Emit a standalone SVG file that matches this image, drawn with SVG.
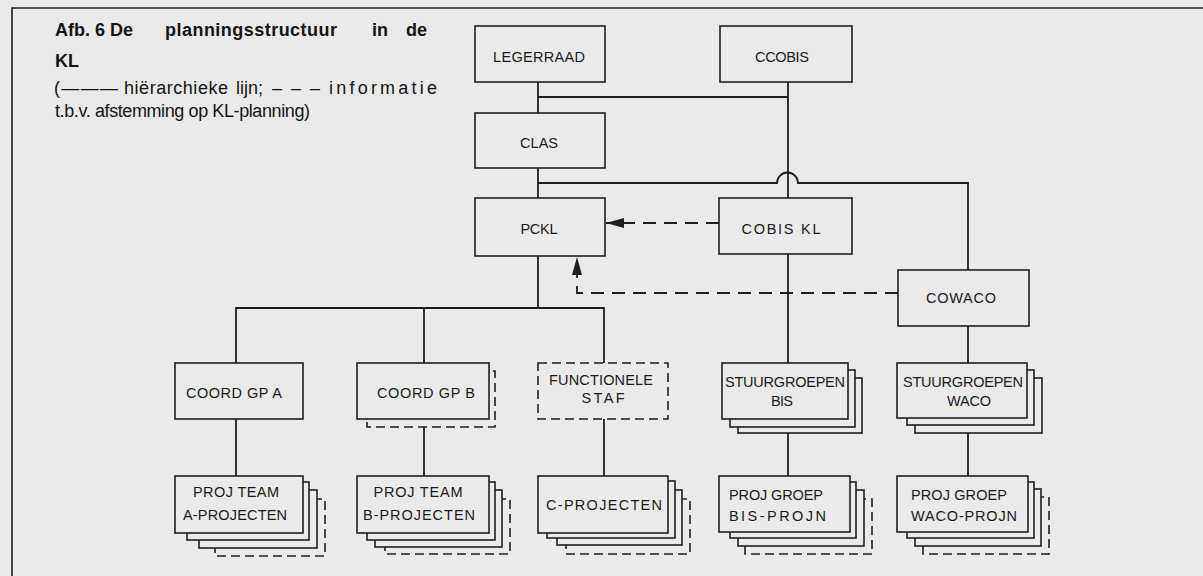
<svg xmlns="http://www.w3.org/2000/svg" width="1203" height="576" viewBox="0 0 1203 576">
<defs>
<style>
.bg{fill:#eaeaea}
.box{fill:#eaeaea;stroke:#1e1e1e;stroke-width:1.6}
.dbox{fill:#eaeaea;stroke:#1e1e1e;stroke-width:1.6;stroke-dasharray:9 5}
.lbl{font-family:"Liberation Sans",Arial,sans-serif;font-size:14.5px;fill:#1a1a1a;text-anchor:middle}
.lbll{font-family:"Liberation Sans",Arial,sans-serif;font-size:14.5px;fill:#1a1a1a}
.cap{font-family:"Liberation Sans",Arial,Helvetica,sans-serif;font-size:18px;fill:#141414}
.capb{font-family:"Liberation Sans",Arial,Helvetica,sans-serif;font-size:18px;font-weight:bold;fill:#141414}
.conn{fill:none;stroke:#1e1e1e;stroke-width:1.8}
.dash{fill:none;stroke:#1e1e1e;stroke-width:1.8;stroke-dasharray:13 8}
.frame{fill:none;stroke:#1e1e1e;stroke-width:1.6}
</style>
<marker id="arr" viewBox="0 0 18 10" refX="18" refY="5" markerWidth="18" markerHeight="10" markerUnits="userSpaceOnUse" orient="auto">
<path d="M0,0 L18,5 L0,10 z" fill="#1e1e1e"/>
</marker>
</defs>
<rect class="bg" x="0" y="0" width="1203" height="576"/>
<path class="frame" d="M12,576 V8 H1203"/>

<g id="caption">
<text class="capb" y="36"><tspan x="55">Afb.</tspan> <tspan x="95">6</tspan> <tspan x="110">De</tspan> <tspan x="165" textLength="172" lengthAdjust="spacing">planningsstructuur</tspan> <tspan x="372">in</tspan> <tspan x="406">de</tspan></text>
<text class="capb" x="55" y="67">KL</text>
<text class="cap" y="94"><tspan x="54" textLength="64" lengthAdjust="spacing">(———</tspan> <tspan x="124" textLength="104" lengthAdjust="spacing">hiërarchieke</tspan> <tspan x="236">lijn;</tspan> <tspan x="272" textLength="48" lengthAdjust="spacing">– – –</tspan> <tspan x="329" textLength="108" lengthAdjust="spacing">informatie</tspan></text>
<text class="cap" x="55" y="117" textLength="255" lengthAdjust="spacing">t.b.v. afstemming op KL-planning)</text>
</g>

<g id="connectors">
<path class="conn" d="M538,82 V113"/>
<path class="conn" d="M538,97 H788"/>
<path class="conn" d="M788,82 V198"/>
<path class="conn" d="M538,168 V198"/>
<path class="conn" d="M538,183 H777 A10.5,10.5 0 0 1 798,183 H968 V270"/>
<path class="conn" d="M538,256 V308"/>
<path class="conn" d="M236,363 V308 H604 V363"/>
<path class="conn" d="M424,308 V363"/>
<path class="conn" d="M788,254 V363"/>
<path class="conn" d="M968,326 V363"/>
<path class="conn" d="M236,419 V476"/>
<path class="conn" d="M424,427 V476"/>
<path class="conn" d="M604,419 V476"/>
<path class="conn" d="M788,433 V476"/>
<path class="conn" d="M968,433 V476"/>
<path class="dash" d="M719,223 H606" marker-end="url(#arr)"/>
<path class="dash" d="M898,293 H577 V257" marker-end="url(#arr)"/>
</g>

<g id="legerraad">
<rect class="box" x="475" y="26" width="130" height="56"/>
<text class="lbl" x="539" y="62" textLength="92" lengthAdjust="spacing">LEGERRAAD</text>
</g>
<g id="ccobis">
<rect class="box" x="720" y="26" width="132" height="56"/>
<text class="lbl" x="782" y="62" textLength="54" lengthAdjust="spacing">CCOBIS</text>
</g>
<g id="clas">
<rect class="box" x="475" y="113" width="130" height="55"/>
<text class="lbl" x="539" y="148" textLength="38" lengthAdjust="spacing">CLAS</text>
</g>
<g id="pckl">
<rect class="box" x="475" y="198" width="130" height="58"/>
<text class="lbl" x="539" y="234" textLength="37" lengthAdjust="spacing">PCKL</text>
</g>
<g id="cobiskl">
<rect class="box" x="719" y="198" width="133" height="56"/>
<text class="lbl" x="781" y="234" textLength="79" lengthAdjust="spacing">COBIS KL</text>
</g>
<g id="cowaco">
<rect class="box" x="898" y="270" width="131" height="56"/>
<text class="lbl" x="961" y="303" textLength="70" lengthAdjust="spacing">COWACO</text>
</g>

<g id="coordgpa">
<rect class="box" x="175" y="363" width="128" height="56"/>
<text class="lbl" x="234" y="398" textLength="96" lengthAdjust="spacing">COORD GP A</text>
</g>
<g id="coordgpb">
<rect class="dbox" x="367" y="371" width="128" height="56"/>
<rect class="box" x="357" y="363" width="132" height="56"/>
<text class="lbl" x="426" y="398" textLength="98" lengthAdjust="spacing">COORD GP B</text>
</g>
<g id="functionelestaf">
<rect class="dbox" x="538" y="363" width="130" height="56"/>
<text class="lbl" x="601" y="385" textLength="104" lengthAdjust="spacing">FUNCTIONELE</text>
<text class="lbl" x="603" y="403" textLength="43" lengthAdjust="spacing">STAF</text>
</g>
<g id="stuurgroepenbis">
<rect class="box" x="738" y="378" width="124" height="55"/>
<rect class="box" x="730" y="370" width="125" height="57"/>
<rect class="box" x="722" y="363" width="126" height="56"/>
<text class="lbl" x="785" y="387" textLength="120" lengthAdjust="spacing">STUURGROEPEN</text>
<text class="lbl" x="782" y="406" textLength="22" lengthAdjust="spacing">BIS</text>
</g>
<g id="stuurgroepenwaco">
<rect class="box" x="915" y="378" width="127" height="55"/>
<rect class="box" x="907" y="370" width="127" height="55"/>
<rect class="box" x="897" y="363" width="130" height="55"/>
<text class="lbl" x="963" y="387" textLength="120" lengthAdjust="spacing">STUURGROEPEN</text>
<text class="lbl" x="969" y="406" textLength="44" lengthAdjust="spacing">WACO</text>
</g>

<g id="projteama">
<rect class="dbox" x="215" y="499" width="110" height="57"/>
<rect class="box" x="199" y="490" width="118" height="58"/>
<rect class="box" x="187" y="482" width="122" height="58"/>
<rect class="box" x="175" y="476" width="128" height="57"/>
<text class="lbl" x="236" y="497" textLength="86" lengthAdjust="spacing">PROJ TEAM</text>
<text class="lbl" x="235" y="520" textLength="104" lengthAdjust="spacing">A-PROJECTEN</text>
</g>
<g id="projteamb">
<rect class="dbox" x="385" y="499" width="125" height="55"/>
<rect class="box" x="375" y="490" width="127" height="57"/>
<rect class="box" x="367" y="482" width="128" height="58"/>
<rect class="box" x="357" y="476" width="132" height="57"/>
<text class="lbl" x="418" y="497" textLength="89" lengthAdjust="spacing">PROJ TEAM</text>
<text class="lbl" x="419" y="520" textLength="112" lengthAdjust="spacing">B-PROJECTEN</text>
</g>
<g id="cprojecten">
<rect class="dbox" x="566" y="499" width="124" height="55"/>
<rect class="box" x="557" y="490" width="125" height="55"/>
<rect class="box" x="547" y="481" width="128" height="57"/>
<rect class="box" x="538" y="476" width="130" height="57"/>
<text class="lbl" x="604" y="510" textLength="116" lengthAdjust="spacing">C-PROJECTEN</text>
</g>
<g id="projgroepbis">
<rect class="dbox" x="745" y="499" width="127" height="55"/>
<rect class="box" x="738" y="490" width="126" height="56"/>
<rect class="box" x="730" y="482" width="126" height="56"/>
<rect class="box" x="719" y="476" width="131" height="56"/>
<text class="lbll" x="729" y="500" textLength="94" lengthAdjust="spacing">PROJ GROEP</text>
<text class="lbll" x="729" y="521" textLength="97" lengthAdjust="spacing">BIS-PROJN</text>
</g>
<g id="projgroepwaco">
<rect class="dbox" x="923" y="497" width="126" height="57"/>
<rect class="box" x="915" y="489" width="126" height="57"/>
<rect class="box" x="907" y="482" width="127" height="56"/>
<rect class="box" x="897" y="476" width="131" height="56"/>
<text class="lbll" x="911" y="500" textLength="96" lengthAdjust="spacing">PROJ GROEP</text>
<text class="lbll" x="911" y="521" textLength="106" lengthAdjust="spacing">WACO-PROJN</text>
</g>
</svg>
